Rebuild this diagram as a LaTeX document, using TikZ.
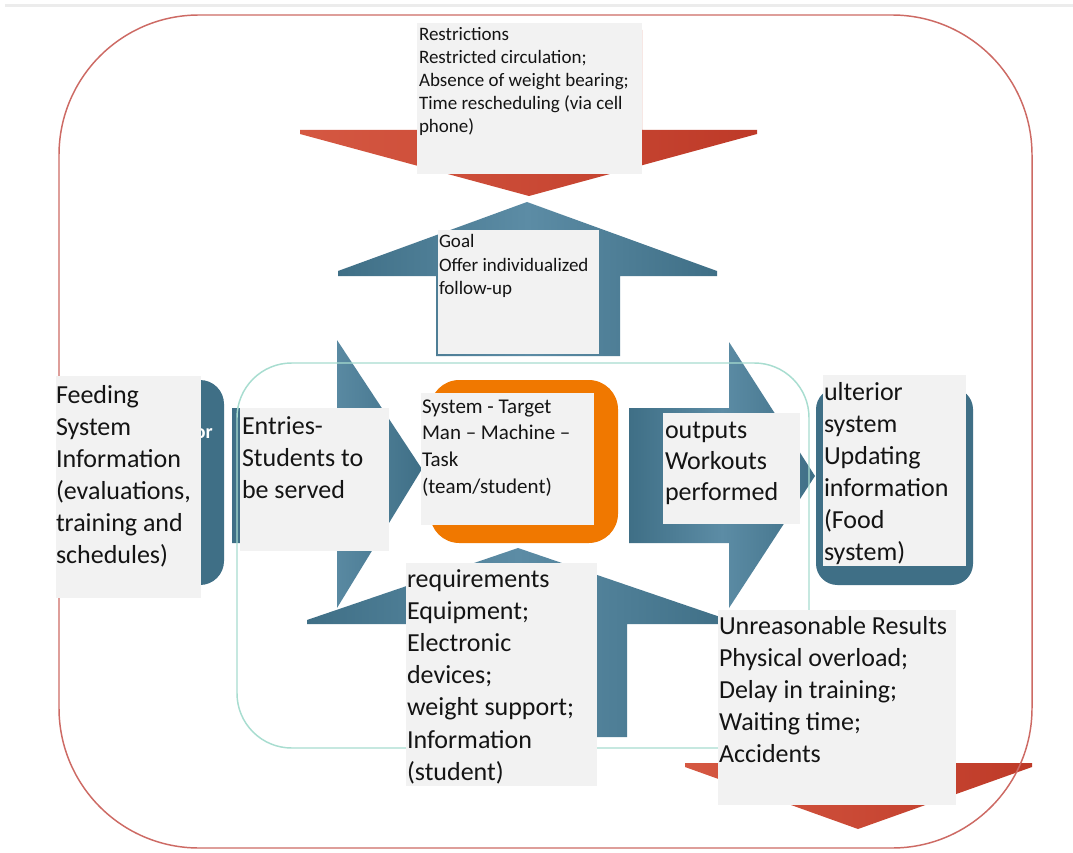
\documentclass[tikz,border=0pt]{standalone}
\usepackage{fontspec}
\setmainfont{Carlito}
\definecolor{boxgray}{HTML}{F2F2F2}
\definecolor{blueD}{HTML}{3F6F86}
\definecolor{blueL}{HTML}{5C8CA5}
\definecolor{redD}{HTML}{BE3A28}
\definecolor{redL}{HTML}{D55842}
\definecolor{orangeC}{HTML}{F07800}
\definecolor{tealC}{HTML}{A8DDD0}
\definecolor{frameRed}{HTML}{CD6A64}
\definecolor{textC}{HTML}{141414}
\definecolor{topLine}{HTML}{ECECEC}
\newcommand\tstrut{\rule{0pt}{0.8em}}
\newcommand\graybox[5]{\node[gbox, minimum width={(#4-#2)*0.75pt}, minimum height={(#5-#3)*0.75pt}] (#1) at (#2,#3) {};}
\tikzset{
  bluearrow/.style={left color=blueD, right color=blueD, middle color=blueL, draw=none},
  redarrow/.style={left color=redL, right color=redD, draw=none},
  gbox/.style={fill=boxgray, draw=none, inner sep=0pt, outer sep=0pt, anchor=north west},
  txt/.style={anchor=north west, inner sep=0pt, outer sep=0pt, align=left, text=textC},
  bigf/.style={font=\fontsize{19.5}{24}\selectfont},
  smallf/.style={font=\fontsize{14.25}{17.25}\selectfont},
  goalf/.style={font=\fontsize{14.25}{17.6}\selectfont},
  centf/.style={font=\fontsize{15.75}{20}\selectfont},
  fragtxt/.style={anchor=base east, inner sep=0pt, text=white, font=\fontsize{15}{18}\bfseries\selectfont},
}
\begin{document}
\begin{tikzpicture}[x=0.75pt,y=-0.75pt]
\useasboundingbox (0,0) rectangle (1073,852);
\fill[white] (0,0) rectangle (1073,852);
\draw[topLine, line width=2.25pt] (5,5.5) -- (1073,5.5);

% blue arrows
\path[bluearrow] (338,271) -- (527,202) -- (717,271) -- (717,276) -- (620,276) -- (620,356) -- (436,356) -- (436,276) -- (338,276) -- cycle;
\path[bluearrow] (232,408) -- (337,408) -- (337,340) -- (422,469) -- (337,608) -- (337,543) -- (232,543) -- cycle;
\path[bluearrow] (629,408) -- (729,408) -- (729,342) -- (815,476) -- (729,608) -- (729,543) -- (629,543) -- cycle;
\path[bluearrow] (307,620) -- (518,548) -- (729,620) -- (729,624) -- (627,624) -- (627,737) -- (417,737) -- (417,624) -- (307,624) -- cycle;

% red arrows
\path[redarrow] (418,30) -- (642,30) -- (642,130) -- (757,130) -- (757,134) -- (529,196) -- (300,134) -- (300,130) -- (418,130) -- cycle;
\path[redarrow] (773,640) -- (943,640) -- (943,763) -- (1032,763) -- (1032,767) -- (858,829) -- (685,767) -- (685,763) -- (773,763) -- cycle;

% blue rounded boxes
\path[fill=blueD, rounded corners=18pt] (120,380) rectangle (224,585);
\path[fill=blueD, rounded corners=16pt] (816,388) rectangle (973,585);
\node[fragtxt] (orfrag) at (213,438) {or};

% orange system box
\path[fill=orangeC, rounded corners=22pt] (430,380) rectangle (618,543);

% frames
\draw[tealC, line width=1.1pt, rounded corners=41pt] (237,363) rectangle (809,748);
\draw[frameRed, line width=1.1pt, rounded corners=105pt] (59,15) rectangle (1032,848);

% gray text boxes
\graybox{restrbox}{417}{23}{642}{174}
\graybox{goalbox}{438}{230}{599}{354}
\graybox{feedbox}{56}{376}{201}{598}
\graybox{entrbox}{240}{408}{389}{551}
\graybox{sysbox}{421}{393}{594}{525}
\graybox{outbox}{663}{413}{800}{524}
\graybox{ultbox}{823}{375}{966}{566}
\graybox{reqbox}{406}{563}{597}{786}
\graybox{unrbox}{718}{610}{956}{805}

% texts
\node[txt, smallf] (restrtxt) at (419,25.8) {\tstrut Restrictions\\Restricted circulation;\\Absence of weight bearing;\\Time rescheduling (via cell\\phone)};
\node[txt, goalf] (goaltxt) at (439,232.8) {\tstrut Goal\\Offer individualized\\follow-up};
\node[txt, bigf] (feedtxt) at (56,382.2) {\tstrut Feeding\\System\\Information\\(evaluations,\\training and\\schedules)};
\node[txt, bigf] (entrtxt) at (242,413.2) {\tstrut Entries-\\Students to\\be served};
\node[txt, centf] (systxt) at (422,396.2) {\tstrut System - Target\\Man – Machine –\\Task\\(team/student)};
\node[txt, font=\fontsize{19.5}{23.25}\selectfont] (outtxt) at (665,417.2) {\tstrut outputs\\Workouts\\performed};
\node[txt, bigf] (ulttxt) at (824,379.2) {\tstrut ulterior\\system\\Updating\\information\\(Food\\system)};
\node[txt, font=\fontsize{19.5}{24.15}\selectfont] (reqtxt) at (407,566.2) {\tstrut requirements\\Equipment;\\Electronic\\devices;\\weight support;\\Information\\(student)};
\node[txt, bigf] (unrtxt) at (719,613.2) {\tstrut Unreasonable Results\\Physical overload;\\Delay in training;\\Waiting time;\\Accidents};
\end{tikzpicture}
\end{document}
